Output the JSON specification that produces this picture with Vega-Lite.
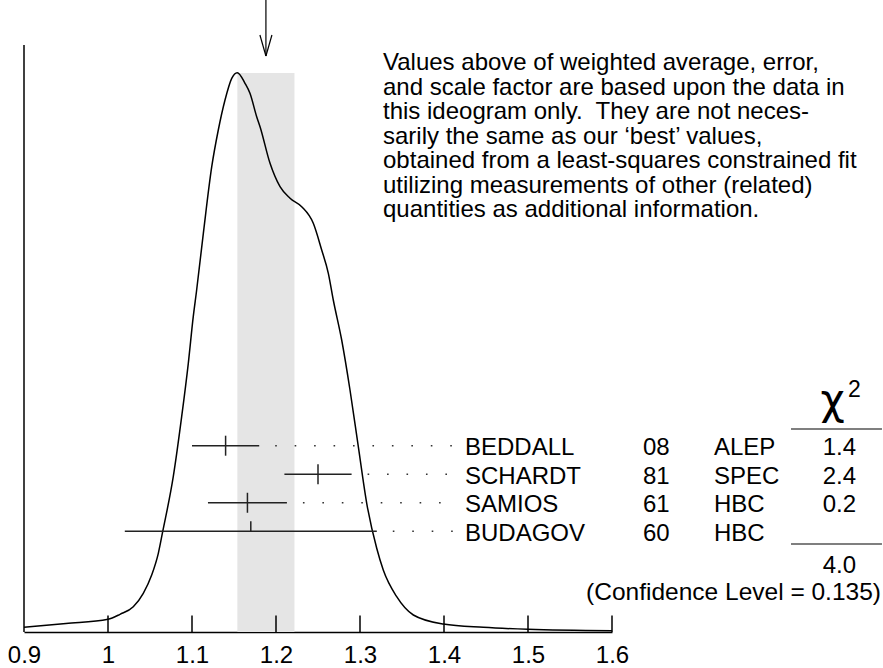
{
  "$schema": "https://vega.github.io/schema/vega-lite/v6.json",
  "width": 588,
  "height": 632,
  "autosize": {"type": "none"},
  "padding": {"left": 24, "top": 0, "right": 271, "bottom": 36},
  "background": "white",
  "config": {
    "view": {"stroke": null},
    "font": "Liberation Sans",
    "text": {"font": "Liberation Sans", "fontSize": 24, "color": "black"},
    "rule": {"color": "black", "strokeWidth": 1.5},
    "axisX": {"ticks": false, "grid": false, "labelFontSize": 24, "labelFont": "Liberation Sans", "labelColor": "black", "labelPadding": 11, "domainColor": "black", "domainWidth": 1.5, "labelFlush": false, "labelOverlap": false, "labelBound": false}
  },
  "datasets": {
    "curve": [
      {"x": 0.9, "d": 4.7}, {"x": 0.95, "d": 8.5}, {"x": 1.0, "d": 12.7}, {"x": 1.0143, "d": 17.7},
      {"x": 1.0301, "d": 25.3}, {"x": 1.042, "d": 38.7}, {"x": 1.052, "d": 57}, {"x": 1.0599, "d": 78.7},
      {"x": 1.0651, "d": 100.3}, {"x": 1.0777, "d": 155.3}, {"x": 1.0877, "d": 215.3}, {"x": 1.0956, "d": 268.7},
      {"x": 1.1015, "d": 315.3}, {"x": 1.1054, "d": 341}, {"x": 1.1135, "d": 398.7}, {"x": 1.1235, "d": 465.3},
      {"x": 1.1313, "d": 502}, {"x": 1.1393, "d": 532}, {"x": 1.1473, "d": 553.7}, {"x": 1.1539, "d": 559.3},
      {"x": 1.1631, "d": 548.7}, {"x": 1.169, "d": 538.7}, {"x": 1.177, "d": 515.3}, {"x": 1.181, "d": 505.3},
      {"x": 1.1929, "d": 468.7}, {"x": 1.2048, "d": 445.3}, {"x": 1.2167, "d": 433.7}, {"x": 1.2306, "d": 425.3},
      {"x": 1.2444, "d": 408.7}, {"x": 1.2544, "d": 382}, {"x": 1.2623, "d": 358.7}, {"x": 1.2682, "d": 332},
      {"x": 1.2782, "d": 292}, {"x": 1.2881, "d": 242}, {"x": 1.298, "d": 185.3}, {"x": 1.308, "d": 128.7},
      {"x": 1.3199, "d": 83.7}, {"x": 1.3277, "d": 62}, {"x": 1.3437, "d": 35.3}, {"x": 1.3635, "d": 17},
      {"x": 1.3992, "d": 8}, {"x": 1.4468, "d": 4.7}, {"x": 1.5, "d": 2.7}, {"x": 1.6, "d": 1.3}
    ],
    "meas": [
      {"name": "BEDDALL", "year": "08", "tech": "ALEP", "val": 1.14, "lo": 1.10, "hi": 1.18, "chi2": "1.4"},
      {"name": "SCHARDT", "year": "81", "tech": "SPEC", "val": 1.25, "lo": 1.21, "hi": 1.29, "chi2": "2.4"},
      {"name": "SAMIOS", "year": "61", "tech": "HBC", "val": 1.166, "lo": 1.119, "hi": 1.213, "chi2": "0.2"},
      {"name": "BUDAGOV", "year": "60", "tech": "HBC", "val": 1.17, "lo": 1.02, "hi": 1.32, "chi2": ""}
    ],
    "summary": [
      {"avg": 1.188, "lo": 1.154, "hi": 1.222, "total": "4.0", "cl": "(Confidence Level = 0.135)",
       "note": "Values above of weighted average, error,\nand scale factor are based upon the data in\nthis ideogram only.\u00a0 They are not neces-\nsarily the same as our ‘best’ values,\nobtained from a least-squares constrained fit\nutilizing measurements of other (related)\nquantities as additional information."}
    ],
    "ticks": [{"v": 1.0}, {"v": 1.1}, {"v": 1.2}, {"v": 1.3}, {"v": 1.4}, {"v": 1.5}, {"v": 1.6}]
  },
  "resolve": {"scale": {"y": "independent"}},
  "layer": [
    {
      "data": {"name": "summary"},
      "mark": {"type": "rect", "color": "#e5e5e5"},
      "encoding": {
        "x": {"field": "lo", "type": "quantitative", "title": null, "scale": {"domain": [0.9, 1.6], "nice": false, "zero": false}, "axis": {"values": [0.9, 1.0, 1.1, 1.2, 1.3, 1.4, 1.5, 1.6], "format": "~g", "title": null}},
        "x2": {"field": "hi"},
        "y": {"datum": 0, "type": "quantitative", "scale": {"domain": [0, 632], "nice": false, "zero": false}, "axis": null},
        "y2": {"datum": 559}
      }
    },
    {
      "data": {"name": "curve"},
      "mark": {"type": "line", "interpolate": "monotone", "color": "black", "strokeWidth": 1.5},
      "encoding": {
        "x": {"field": "x", "type": "quantitative", "title": null, "scale": {"domain": [0.9, 1.6], "nice": false, "zero": false}, "axis": {"values": [0.9, 1.0, 1.1, 1.2, 1.3, 1.4, 1.5, 1.6], "format": "~g", "title": null}},
        "y": {"field": "d", "type": "quantitative", "scale": {"domain": [0, 632], "nice": false, "zero": false}, "axis": null}
      }
    },
    {
      "data": {"name": "ticks"},
      "mark": {"type": "rule"},
      "encoding": {
        "x": {"field": "v", "type": "quantitative", "title": null, "scale": {"domain": [0.9, 1.6], "nice": false, "zero": false}, "axis": {"values": [0.9, 1.0, 1.1, 1.2, 1.3, 1.4, 1.5, 1.6], "format": "~g", "title": null}},
        "y": {"datum": 0, "type": "quantitative", "scale": {"domain": [0, 632], "nice": false, "zero": false}, "axis": null},
        "y2": {"datum": 16.5}
      }
    },
    {
      "data": {"name": "summary"},
      "mark": {"type": "rule"},
      "encoding": {
        "x": {"datum": 0.9, "type": "quantitative", "title": null, "scale": {"domain": [0.9, 1.6], "nice": false, "zero": false}, "axis": {"values": [0.9, 1.0, 1.1, 1.2, 1.3, 1.4, 1.5, 1.6], "format": "~g", "title": null}},
        "y": {"datum": 0, "type": "quantitative", "scale": {"domain": [0, 632], "nice": false, "zero": false}, "axis": null},
        "y2": {"datum": 587}
      }
    },
    {
      "data": {"name": "summary"},
      "mark": {"type": "rule", "strokeWidth": 1.2},
      "encoding": {
        "x": {"field": "avg", "type": "quantitative", "title": null, "scale": {"domain": [0.9, 1.6], "nice": false, "zero": false}, "axis": {"values": [0.9, 1.0, 1.1, 1.2, 1.3, 1.4, 1.5, 1.6], "format": "~g", "title": null}},
        "y": {"datum": 576, "type": "quantitative", "scale": {"domain": [0, 632], "nice": false, "zero": false}, "axis": null},
        "y2": {"datum": 632}
      }
    },
    {
      "data": {"name": "summary"},
      "mark": {"type": "rule", "strokeWidth": 1.2, "x2Offset": -6},
      "encoding": {
        "x": {"field": "avg", "type": "quantitative", "title": null, "scale": {"domain": [0.9, 1.6], "nice": false, "zero": false}, "axis": {"values": [0.9, 1.0, 1.1, 1.2, 1.3, 1.4, 1.5, 1.6], "format": "~g", "title": null}},
        "x2": {"field": "avg"},
        "y": {"datum": 576, "type": "quantitative", "scale": {"domain": [0, 632], "nice": false, "zero": false}, "axis": null},
        "y2": {"datum": 597}
      }
    },
    {
      "data": {"name": "summary"},
      "mark": {"type": "rule", "strokeWidth": 1.2, "x2Offset": 6},
      "encoding": {
        "x": {"field": "avg", "type": "quantitative", "title": null, "scale": {"domain": [0.9, 1.6], "nice": false, "zero": false}, "axis": {"values": [0.9, 1.0, 1.1, 1.2, 1.3, 1.4, 1.5, 1.6], "format": "~g", "title": null}},
        "x2": {"field": "avg"},
        "y": {"datum": 576, "type": "quantitative", "scale": {"domain": [0, 632], "nice": false, "zero": false}, "axis": null},
        "y2": {"datum": 597}
      }
    },
    {
      "data": {"name": "meas"},
      "mark": {"type": "rule", "color": "#222222", "strokeWidth": 1.5},
      "encoding": {
        "x": {"field": "lo", "type": "quantitative", "title": null, "scale": {"domain": [0.9, 1.6], "nice": false, "zero": false}, "axis": {"values": [0.9, 1.0, 1.1, 1.2, 1.3, 1.4, 1.5, 1.6], "format": "~g", "title": null}},
        "x2": {"field": "hi"},
        "y": {"field": "name", "type": "nominal", "scale": {"type": "point", "domain": ["BEDDALL", "SCHARDT", "SAMIOS", "BUDAGOV"], "range": [445.7, 531.3], "padding": 0}, "axis": null}
      }
    },
    {
      "data": {"name": "meas"},
      "transform": [{"filter": "datum.chi2 != ''"}],
      "mark": {"type": "tick", "orient": "vertical", "size": 20, "thickness": 1.5, "color": "#222222", "opacity": 1},
      "encoding": {
        "x": {"field": "val", "type": "quantitative", "title": null, "scale": {"domain": [0.9, 1.6], "nice": false, "zero": false}, "axis": {"values": [0.9, 1.0, 1.1, 1.2, 1.3, 1.4, 1.5, 1.6], "format": "~g", "title": null}},
        "y": {"field": "name", "type": "nominal", "scale": {"type": "point", "domain": ["BEDDALL", "SCHARDT", "SAMIOS", "BUDAGOV"], "range": [445.7, 531.3], "padding": 0}, "axis": null}
      }
    },
    {
      "data": {"name": "meas"},
      "transform": [{"filter": "datum.chi2 == ''"}],
      "mark": {"type": "tick", "orient": "vertical", "size": 10, "thickness": 1.5, "yOffset": -5, "color": "#222222", "opacity": 1},
      "encoding": {
        "x": {"field": "val", "type": "quantitative", "title": null, "scale": {"domain": [0.9, 1.6], "nice": false, "zero": false}, "axis": {"values": [0.9, 1.0, 1.1, 1.2, 1.3, 1.4, 1.5, 1.6], "format": "~g", "title": null}},
        "y": {"field": "name", "type": "nominal", "scale": {"type": "point", "domain": ["BEDDALL", "SCHARDT", "SAMIOS", "BUDAGOV"], "range": [445.7, 531.3], "padding": 0}, "axis": null}
      }
    },
    {
      "data": {"name": "meas"},
      "mark": {"type": "rule", "color": "#333333", "strokeWidth": 1.6, "strokeDash": [1.6, 17.85], "xOffset": 16},
      "encoding": {
        "x": {"field": "hi", "type": "quantitative", "title": null, "scale": {"domain": [0.9, 1.6], "nice": false, "zero": false}, "axis": {"values": [0.9, 1.0, 1.1, 1.2, 1.3, 1.4, 1.5, 1.6], "format": "~g", "title": null}},
        "x2": {"datum": 1.4105},
        "y": {"field": "name", "type": "nominal", "scale": {"type": "point", "domain": ["BEDDALL", "SCHARDT", "SAMIOS", "BUDAGOV"], "range": [445.7, 531.3], "padding": 0}, "axis": null}
      }
    },
    {
      "data": {"name": "meas"},
      "mark": {"type": "text", "align": "left", "baseline": "alphabetic", "dy": 9.5},
      "encoding": {
        "x": {"datum": 1.425, "type": "quantitative", "title": null, "scale": {"domain": [0.9, 1.6], "nice": false, "zero": false}, "axis": {"values": [0.9, 1.0, 1.1, 1.2, 1.3, 1.4, 1.5, 1.6], "format": "~g", "title": null}},
        "y": {"field": "name", "type": "nominal", "scale": {"type": "point", "domain": ["BEDDALL", "SCHARDT", "SAMIOS", "BUDAGOV"], "range": [445.7, 531.3], "padding": 0}, "axis": null},
        "text": {"field": "name"}
      }
    },
    {
      "data": {"name": "meas"},
      "mark": {"type": "text", "align": "left", "baseline": "alphabetic", "dy": 9.5},
      "encoding": {
        "x": {"datum": 1.6369, "type": "quantitative", "title": null, "scale": {"domain": [0.9, 1.6], "nice": false, "zero": false}, "axis": {"values": [0.9, 1.0, 1.1, 1.2, 1.3, 1.4, 1.5, 1.6], "format": "~g", "title": null}},
        "y": {"field": "name", "type": "nominal", "scale": {"type": "point", "domain": ["BEDDALL", "SCHARDT", "SAMIOS", "BUDAGOV"], "range": [445.7, 531.3], "padding": 0}, "axis": null},
        "text": {"field": "year"}
      }
    },
    {
      "data": {"name": "meas"},
      "mark": {"type": "text", "align": "left", "baseline": "alphabetic", "dy": 9.5},
      "encoding": {
        "x": {"datum": 1.7214, "type": "quantitative", "title": null, "scale": {"domain": [0.9, 1.6], "nice": false, "zero": false}, "axis": {"values": [0.9, 1.0, 1.1, 1.2, 1.3, 1.4, 1.5, 1.6], "format": "~g", "title": null}},
        "y": {"field": "name", "type": "nominal", "scale": {"type": "point", "domain": ["BEDDALL", "SCHARDT", "SAMIOS", "BUDAGOV"], "range": [445.7, 531.3], "padding": 0}, "axis": null},
        "text": {"field": "tech"}
      }
    },
    {
      "data": {"name": "meas"},
      "mark": {"type": "text", "align": "right", "baseline": "alphabetic", "dy": 9.5},
      "encoding": {
        "x": {"datum": 1.8905, "type": "quantitative", "title": null, "scale": {"domain": [0.9, 1.6], "nice": false, "zero": false}, "axis": {"values": [0.9, 1.0, 1.1, 1.2, 1.3, 1.4, 1.5, 1.6], "format": "~g", "title": null}},
        "y": {"field": "name", "type": "nominal", "scale": {"type": "point", "domain": ["BEDDALL", "SCHARDT", "SAMIOS", "BUDAGOV"], "range": [445.7, 531.3], "padding": 0}, "axis": null},
        "text": {"field": "chi2"}
      }
    },
    {
      "data": {"name": "summary"},
      "mark": {"type": "rule", "strokeWidth": 1.2},
      "encoding": {
        "x": {"datum": 1.8131, "type": "quantitative", "title": null, "scale": {"domain": [0.9, 1.6], "nice": false, "zero": false}, "axis": {"values": [0.9, 1.0, 1.1, 1.2, 1.3, 1.4, 1.5, 1.6], "format": "~g", "title": null}},
        "x2": {"datum": 1.9214},
        "y": {"datum": 203, "type": "quantitative", "scale": {"domain": [0, 632], "nice": false, "zero": false}, "axis": null}
      }
    },
    {
      "data": {"name": "summary"},
      "mark": {"type": "rule", "strokeWidth": 1.2},
      "encoding": {
        "x": {"datum": 1.8131, "type": "quantitative", "title": null, "scale": {"domain": [0.9, 1.6], "nice": false, "zero": false}, "axis": {"values": [0.9, 1.0, 1.1, 1.2, 1.3, 1.4, 1.5, 1.6], "format": "~g", "title": null}},
        "x2": {"datum": 1.9214},
        "y": {"datum": 88, "type": "quantitative", "scale": {"domain": [0, 632], "nice": false, "zero": false}, "axis": null}
      }
    },
    {
      "data": {"name": "summary"},
      "mark": {"type": "text", "align": "right", "baseline": "alphabetic"},
      "encoding": {
        "x": {"datum": 1.8905, "type": "quantitative", "title": null, "scale": {"domain": [0.9, 1.6], "nice": false, "zero": false}, "axis": {"values": [0.9, 1.0, 1.1, 1.2, 1.3, 1.4, 1.5, 1.6], "format": "~g", "title": null}},
        "y": {"datum": 58.7, "type": "quantitative", "scale": {"domain": [0, 632], "nice": false, "zero": false}, "axis": null},
        "text": {"field": "total"}
      }
    },
    {
      "data": {"name": "summary"},
      "mark": {"type": "text", "align": "right", "baseline": "alphabetic", "fontSize": 24.5},
      "encoding": {
        "x": {"datum": 1.9202, "type": "quantitative", "title": null, "scale": {"domain": [0.9, 1.6], "nice": false, "zero": false}, "axis": {"values": [0.9, 1.0, 1.1, 1.2, 1.3, 1.4, 1.5, 1.6], "format": "~g", "title": null}},
        "y": {"datum": 32, "type": "quantitative", "scale": {"domain": [0, 632], "nice": false, "zero": false}, "axis": null},
        "text": {"field": "cl"}
      }
    },
    {
      "data": {"name": "summary"},
      "mark": {"type": "text", "align": "center", "baseline": "alphabetic", "fontSize": 42, "font": "DejaVu Sans", "text": "χ"},
      "encoding": {
        "x": {"datum": 1.8625, "type": "quantitative", "title": null, "scale": {"domain": [0.9, 1.6], "nice": false, "zero": false}, "axis": {"values": [0.9, 1.0, 1.1, 1.2, 1.3, 1.4, 1.5, 1.6], "format": "~g", "title": null}},
        "y": {"datum": 218, "type": "quantitative", "scale": {"domain": [0, 632], "nice": false, "zero": false}, "axis": null}
      }
    },
    {
      "data": {"name": "summary"},
      "mark": {"type": "text", "align": "left", "baseline": "alphabetic", "fontSize": 23, "text": "2"},
      "encoding": {
        "x": {"datum": 1.881, "type": "quantitative", "title": null, "scale": {"domain": [0.9, 1.6], "nice": false, "zero": false}, "axis": {"values": [0.9, 1.0, 1.1, 1.2, 1.3, 1.4, 1.5, 1.6], "format": "~g", "title": null}},
        "y": {"datum": 235.3, "type": "quantitative", "scale": {"domain": [0, 632], "nice": false, "zero": false}, "axis": null}
      }
    },
    {
      "data": {"name": "summary"},
      "mark": {"type": "text", "align": "left", "baseline": "alphabetic", "lineBreak": "\n", "lineHeight": 24.5},
      "encoding": {
        "x": {"datum": 1.3274, "type": "quantitative", "title": null, "scale": {"domain": [0.9, 1.6], "nice": false, "zero": false}, "axis": {"values": [0.9, 1.0, 1.1, 1.2, 1.3, 1.4, 1.5, 1.6], "format": "~g", "title": null}},
        "y": {"datum": 562, "type": "quantitative", "scale": {"domain": [0, 632], "nice": false, "zero": false}, "axis": null},
        "text": {"field": "note"}
      }
    }
  ]
}
